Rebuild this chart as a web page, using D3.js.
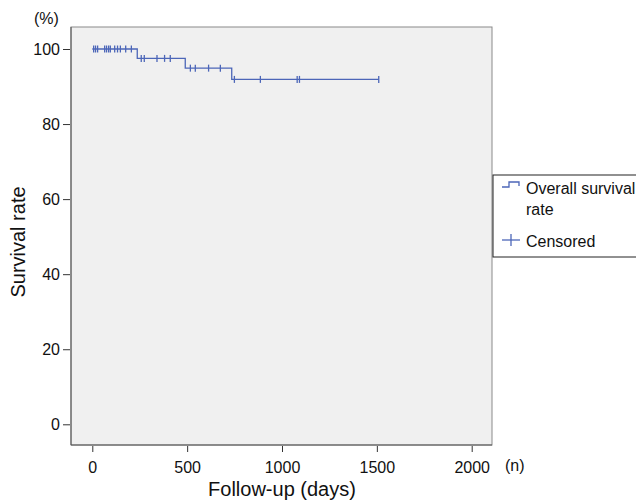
<!DOCTYPE html>
<html><head><meta charset="utf-8">
<script src="https://cdn.jsdelivr.net/npm/d3@7/dist/d3.min.js"></script>
<style>body{margin:0;background:#fff}svg{display:block}text{font-family:"Liberation Sans",Arial,sans-serif;fill:#111}</style>
</head><body>
<script>
// Step changes (days, survival %)
const stepDays = [0, 237, 490, 735];
const stepSurv = [100, 97.5, 94.9, 91.9];
const lastDay = 1510;
// Censored observations (days)
const censorDays = [7, 17, 28, 65, 75, 86, 95, 118, 133, 148, 176, 206,
  258, 274, 341, 381, 411,
  517, 543, 613, 675,
  749, 886, 1080, 1092, 1510];
const xTicks = [0, 500, 1000, 1500, 2000];
const yTicks = [0, 20, 40, 60, 80, 100];

const W = 636, H = 500;
const svg = d3.select("body").append("svg").attr("width", W).attr("height", H);
const box = {l: 71, r: 492, t: 27, b: 445};
const x = d3.scaleLinear().domain([0, 2000]).range([92.3, 471.7]);
const y = d3.scaleLinear().domain([0, 100]).range([424.3, 49]);
const col = "#4c66b8";
const FONT = "Liberation Sans, Arial, sans-serif";

svg.append("rect").attr("x", box.l).attr("y", box.t).attr("width", box.r - box.l).attr("height", box.b - box.t)
  .attr("fill", "#f0f0f0").attr("stroke", "#8a8a8a").attr("stroke-width", 1);
svg.append("line").attr("x1", box.l).attr("x2", box.l).attr("y1", box.t).attr("y2", box.b).attr("stroke", "#555");
svg.append("line").attr("x1", box.l).attr("x2", box.r).attr("y1", box.b).attr("y2", box.b).attr("stroke", "#555");

const xAxis = svg.append("g").attr("transform", `translate(0,${box.b + 1})`)
  .call(d3.axisBottom(x).tickValues(xTicks).tickSize(6).tickPadding(10).tickFormat(d3.format("d")));
xAxis.select(".domain").remove();
xAxis.selectAll("line").attr("stroke", "#333");
xAxis.selectAll("text").style("font-size", "16px").style("font-family", FONT).attr("fill", "#111");

const yAxis = svg.append("g").attr("transform", `translate(${box.l - 1},0)`)
  .call(d3.axisLeft(y).tickValues(yTicks).tickSize(7).tickPadding(3));
yAxis.select(".domain").remove();
yAxis.selectAll("line").attr("stroke", "#333");
yAxis.selectAll("text").style("font-size", "16px").style("font-family", FONT).attr("fill", "#111");

// KM step line
const pts = [];
stepDays.forEach((d, i) => { pts.push([d, stepSurv[i]]); });
pts.push([lastDay, stepSurv[stepSurv.length - 1]]);
const line = d3.line().x(d => x(d[0])).y(d => y(d[1])).curve(d3.curveStepAfter);
svg.append("path").attr("d", line(pts)).attr("fill", "none").attr("stroke", col).attr("stroke-width", 1.3);

function survAt(t) {
  let s = stepSurv[0];
  stepDays.forEach((d, i) => { if (t >= d) s = stepSurv[i]; });
  return s;
}
svg.append("g").selectAll("line").data(censorDays).join("line")
  .attr("x1", d => x(d)).attr("x2", d => x(d))
  .attr("y1", d => y(survAt(d)) - 3.5).attr("y2", d => y(survAt(d)) + 3.5)
  .attr("stroke", col).attr("stroke-width", 1.3);

// Axis titles
svg.append("text").attr("x", 34).attr("y", 24).style("font-size", "16px").text("(%)");
svg.append("text").attr("x", 505).attr("y", 471).style("font-size", "16px").text("(n)");
svg.append("text").attr("x", 282).attr("y", 496).attr("text-anchor", "middle").style("font-size", "20px").text("Follow-up (days)");
svg.append("text").attr("transform", "translate(25,242) rotate(-90)").attr("text-anchor", "middle").style("font-size", "20px").text("Survival rate");

// Legend
const lg = svg.append("g");
lg.append("rect").attr("x", 493).attr("y", 175).attr("width", 150).attr("height", 82)
  .attr("fill", "#fff").attr("stroke", "#222").attr("stroke-width", 1);
lg.append("path").attr("d", "M502,187H509V182H519V186").attr("fill", "none").attr("stroke", col).attr("stroke-width", 1.3);
lg.append("text").attr("x", 526).attr("y", 194).style("font-size", "16px").text("Overall survival");
lg.append("text").attr("x", 526).attr("y", 215).style("font-size", "16px").text("rate");
lg.append("line").attr("x1", 502).attr("x2", 520).attr("y1", 240).attr("y2", 240).attr("stroke", col).attr("stroke-width", 1.3);
lg.append("line").attr("x1", 511).attr("x2", 511).attr("y1", 234).attr("y2", 246).attr("stroke", col).attr("stroke-width", 1.3);
lg.append("text").attr("x", 526).attr("y", 247).style("font-size", "16px").text("Censored");
</script>
</body></html>
